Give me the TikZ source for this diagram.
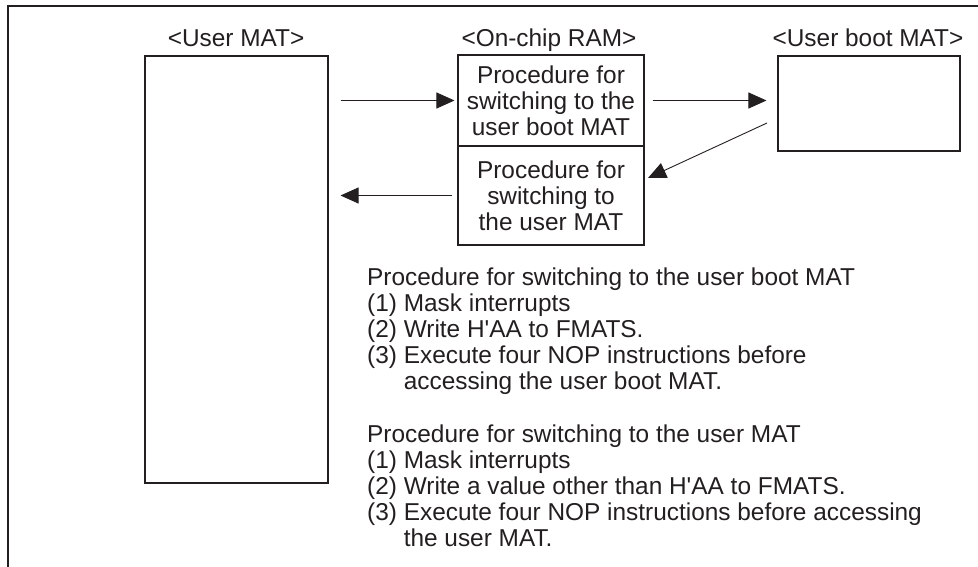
\documentclass[tikz,border=0pt]{standalone}
\usepackage{fontspec}
\setmainfont{Liberation Sans}
\usetikzlibrary{arrows.meta}
\definecolor{ink}{RGB}{35,31,32}
\begin{document}
\begin{tikzpicture}[x=1pt,y=-1pt,
  every node/.style={text=ink,font=\fontsize{24.4}{26}\selectfont},
  memrect/.style={draw=ink,line width=1.1pt,inner sep=0pt,rectangle},
  lbl/.style={anchor=base,inner sep=0pt},
  txt/.style={anchor=base west,inner sep=0pt},
  arr/.style={draw=ink,line width=0.9pt,-{Triangle[length=18pt,width=16pt]}}]
\useasboundingbox (0,0) rectangle (978,567);
% outer frame
\draw[ink,line width=2.7pt] (8,567) -- (8,6) -- (978,6);
% memory blocks
\node[memrect,minimum width=183pt,minimum height=427pt] (umat) at (236.5,269.5) {};
\node[memrect,minimum width=186pt,minimum height=91pt,align=center] (ramtop) at (551,100.5)
  {Procedure for\\switching to the\\user boot MAT};
\node[memrect,minimum width=186pt,minimum height=99pt,align=center] (ramlow) at (551,195.5)
  {Procedure for\\switching to\\the user MAT};
\node[memrect,minimum width=182pt,minimum height=95pt] (uboot) at (869,103.5) {};
% labels
\node[lbl] (lumat) at (236,47) {<User MAT>};
\node[lbl] (lram) at (549,47) {<On-chip RAM>};
\node[lbl] (luboot) at (868,47) {<User boot MAT>};
% arrows
\draw[arr,shorten <=12pt,shorten >=3pt] (umat.east |- ramtop.west) -- (ramtop.west);
\draw[arr,shorten <=8pt,shorten >=11pt] (ramtop.east) -- (ramtop.east -| uboot.west);
\coordinate (a3s) at (767,123);
\coordinate (a3e) at (648,178);
\draw[arr] (a3s) -- (a3e);
\draw[arr,shorten <=5pt,shorten >=12pt] (ramlow.west) -- (ramlow.west -| umat.east);
% procedure texts
\node[txt] (p1a) at (367,285) {Procedure for switching to the user boot MAT};
\node[txt] (p1b) at (367,311) {(1) Mask interrupts};
\node[txt] (p1c) at (367,337) {(2) Write H\textquotesingle AA to FMATS.};
\node[txt] (p1d) at (367,363) {(3) Execute four NOP instructions before};
\node[txt] (p1e) at (367,389) {\hphantom{(3) }accessing the user boot MAT.};
\node[txt] (p2a) at (367,442) {Procedure for switching to the user MAT};
\node[txt] (p2b) at (367,468) {(1) Mask interrupts};
\node[txt] (p2c) at (367,494) {(2) Write a value other than H\textquotesingle AA to FMATS.};
\node[txt] (p2d) at (367,520) {(3) Execute four NOP instructions before accessing};
\node[txt] (p2e) at (367,546) {\hphantom{(3) }the user MAT.};
\end{tikzpicture}
\end{document}
